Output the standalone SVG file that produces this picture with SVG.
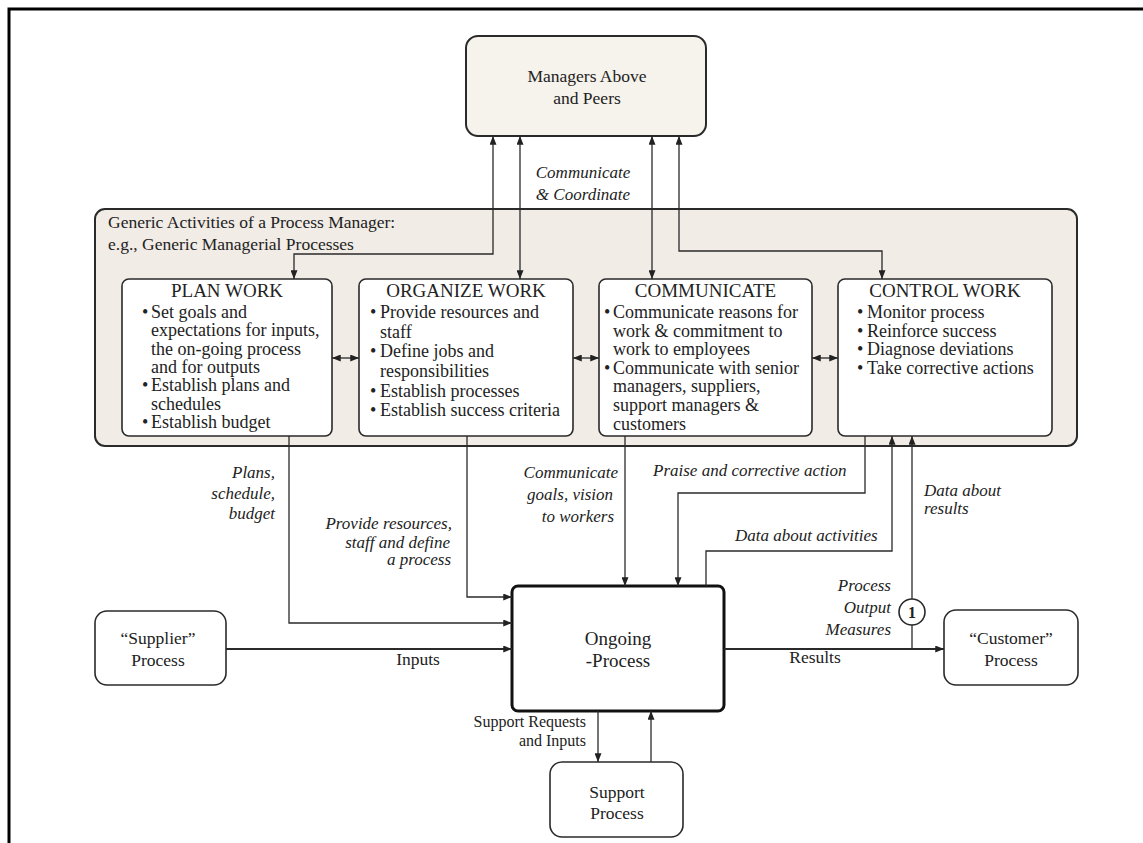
<svg xmlns="http://www.w3.org/2000/svg" width="1143" height="843" viewBox="0 0 1143 843">
<style>
text{font-family:"Liberation Serif","Times New Roman",serif;fill:#222}
.t{font-size:17.5px}
.it{font-size:17px;font-style:italic}
.ttl{font-size:19px;text-anchor:middle}
.b{font-size:18px}
.mid{text-anchor:middle}
.end{text-anchor:end}
.box{fill:#fff;stroke:#2a2a2a;stroke-width:1.6}
.ln{fill:none;stroke:#2a2a2a;stroke-width:1.3}
.thick{stroke-width:2}
</style>
<defs>
<marker id="ah" viewBox="0 0 10 8" refX="10" refY="4" markerWidth="9" markerHeight="7" markerUnits="userSpaceOnUse" orient="auto-start-reverse">
<path d="M0,0 L10,4 L0,8 z" fill="#222"/>
</marker>
</defs>
<rect width="1143" height="843" fill="#fff"/>
<path d="M9,843 V9 H1143" fill="none" stroke="#000" stroke-width="3"/>

<g id="managers">
<rect x="466" y="36" width="240" height="100" rx="12" fill="#f6f2ec" stroke="#2a2a2a" stroke-width="2"/>
<text class="t mid" x="587" y="82">Managers Above</text>
<text class="t mid" x="587" y="104">and Peers</text>
</g>

<g id="activities">
<rect x="95" y="209" width="982" height="237" rx="10" fill="#f1ece6" stroke="#2a2a2a" stroke-width="2"/>
<text class="t" x="108" y="228">Generic Activities of a Process Manager:</text>
<text class="t" x="108" y="250">e.g., Generic Managerial Processes</text>
</g>

<g id="plan-work">
<rect class="box" x="122" y="279" width="210" height="157" rx="7"/>
<text class="ttl" x="227" y="297">PLAN WORK</text>
<text class="b" x="142" y="318">•</text><text class="b" x="151" y="318">Set goals and</text>
<text class="b" x="151" y="336.3">expectations for inputs,</text>
<text class="b" x="151" y="354.7">the on-going process</text>
<text class="b" x="151" y="373">and for outputs</text>
<text class="b" x="142" y="391.3">•</text><text class="b" x="151" y="391.3">Establish plans and</text>
<text class="b" x="151" y="409.7">schedules</text>
<text class="b" x="142" y="428">•</text><text class="b" x="151" y="428">Establish budget</text>
</g>

<g id="organize-work">
<rect class="box" x="359" y="279" width="214" height="157" rx="7"/>
<text class="ttl" x="466" y="297">ORGANIZE WORK</text>
<text class="b" x="370" y="318">•</text><text class="b" x="380" y="318">Provide resources and</text>
<text class="b" x="380" y="337.7">staff</text>
<text class="b" x="370" y="357.3">•</text><text class="b" x="380" y="357.3">Define jobs and</text>
<text class="b" x="380" y="377">responsibilities</text>
<text class="b" x="370" y="396.7">•</text><text class="b" x="380" y="396.7">Establish processes</text>
<text class="b" x="370" y="416.3">•</text><text class="b" x="380" y="416.3">Establish success criteria</text>
</g>

<g id="communicate">
<rect class="box" x="599" y="279" width="213" height="157" rx="7"/>
<text class="ttl" x="705.5" y="297">COMMUNICATE</text>
<text class="b" x="604" y="318">•</text><text class="b" x="613" y="318">Communicate reasons for</text>
<text class="b" x="613" y="336.6">work &amp; commitment to</text>
<text class="b" x="613" y="355.2">work to employees</text>
<text class="b" x="604" y="373.8">•</text><text class="b" x="613" y="373.8">Communicate with senior</text>
<text class="b" x="613" y="392.4">managers, suppliers,</text>
<text class="b" x="613" y="411">support managers &amp;</text>
<text class="b" x="613" y="429.6">customers</text>
</g>

<g id="control-work">
<rect class="box" x="838" y="279" width="214" height="157" rx="7"/>
<text class="ttl" x="945" y="297">CONTROL WORK</text>
<text class="b" x="857" y="318">•</text><text class="b" x="867" y="318">Monitor process</text>
<text class="b" x="857" y="336.7">•</text><text class="b" x="867" y="336.7">Reinforce success</text>
<text class="b" x="857" y="355.4">•</text><text class="b" x="867" y="355.4">Diagnose deviations</text>
<text class="b" x="857" y="374">•</text><text class="b" x="867" y="374">Take corrective actions</text>
</g>

<g id="supplier">
<rect class="box" x="95" y="611" width="131" height="74" rx="12"/>
<text class="t mid" x="158" y="644">“Supplier”</text>
<text class="t mid" x="158" y="666">Process</text>
</g>

<g id="ongoing">
<rect x="512" y="586" width="212" height="125" rx="6" fill="#fff" stroke="#111" stroke-width="3"/>
<text class="mid" style="font-size:19px" x="618" y="645">Ongoing</text>
<text class="mid" style="font-size:19px" x="618" y="667">-Process</text>
</g>

<g id="customer">
<rect class="box" x="944" y="610" width="134" height="75" rx="12"/>
<text class="t mid" x="1011" y="644">“Customer”</text>
<text class="t mid" x="1011" y="666">Process</text>
</g>

<g id="support">
<rect class="box" x="550" y="762" width="133" height="75" rx="12"/>
<text class="t mid" x="617" y="798">Support</text>
<text class="t mid" x="617" y="819">Process</text>
</g>

<g id="connectors">
<path class="ln" d="M493,136 V254 H294 V279" marker-start="url(#ah)" marker-end="url(#ah)"/>
<path class="ln" d="M520,136 V279" marker-start="url(#ah)" marker-end="url(#ah)"/>
<path class="ln" d="M652,136 V279" marker-start="url(#ah)" marker-end="url(#ah)"/>
<path class="ln" d="M679,136 V251 H882 V279" marker-start="url(#ah)" marker-end="url(#ah)"/>
<path class="ln" d="M332,358 H359" marker-start="url(#ah)" marker-end="url(#ah)"/>
<path class="ln" d="M573,358 H599" marker-start="url(#ah)" marker-end="url(#ah)"/>
<path class="ln" d="M812,358 H838" marker-start="url(#ah)" marker-end="url(#ah)"/>
<path class="ln" d="M289,436 V623 H512" marker-end="url(#ah)"/>
<path class="ln" d="M467,436 V597 H512" marker-end="url(#ah)"/>
<path class="ln thick" d="M226,649 H512" marker-end="url(#ah)"/>
<path class="ln" d="M625,436 V586" marker-end="url(#ah)"/>
<path class="ln" d="M865,436 V493 H678 V586" marker-end="url(#ah)"/>
<path class="ln" d="M706,586 V551 H892 V436" marker-end="url(#ah)"/>
<path class="ln thick" d="M724,649 H944" marker-end="url(#ah)"/>
<path class="ln" d="M912,649 V436" marker-end="url(#ah)"/>
<path class="ln" d="M598,711 V762" marker-end="url(#ah)"/>
<path class="ln" d="M651,762 V711" marker-end="url(#ah)"/>
<circle cx="912" cy="612" r="13" fill="#fff" stroke="#2a2a2a" stroke-width="1.6"/>
<text class="mid" style="font-size:16px;font-weight:bold" x="912" y="618">1</text>
</g>

<g id="labels">
<text class="it mid" x="583" y="178">Communicate</text>
<text class="it mid" x="583" y="200">&amp; Coordinate</text>
<text class="it end" x="275" y="478">Plans,</text>
<text class="it end" x="275" y="499">schedule,</text>
<text class="it end" x="275" y="519">budget</text>
<text class="it end" x="452" y="529">Provide resources,</text>
<text class="it end" x="450" y="548">staff and define</text>
<text class="it end" x="451" y="565">a process</text>
<text class="it end" x="618" y="478">Communicate</text>
<text class="it end" x="613" y="500">goals, vision</text>
<text class="it end" x="614" y="522">to workers</text>
<text class="it" x="653" y="476">Praise and corrective action</text>
<text class="it" x="735" y="541">Data about activities</text>
<text class="it" x="924" y="496">Data about</text>
<text class="it" x="924" y="514">results</text>
<text class="it end" x="891" y="591">Process</text>
<text class="it end" x="891" y="613">Output</text>
<text class="it end" x="891" y="635">Measures</text>
<text class="t mid" x="418" y="665">Inputs</text>
<text class="t mid" x="815" y="663">Results</text>
<text class="end" style="font-size:16px" x="586" y="727">Support Requests</text>
<text class="end" style="font-size:16px" x="586" y="746">and Inputs</text>
</g>
</svg>
